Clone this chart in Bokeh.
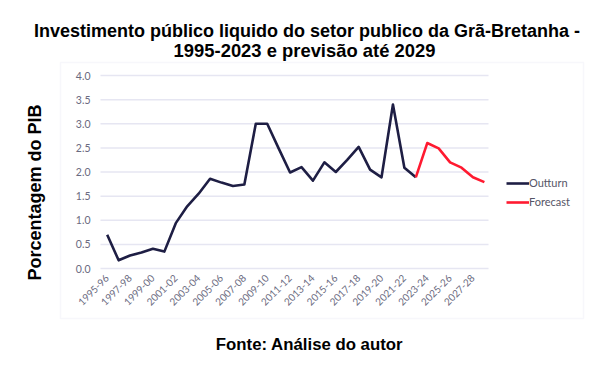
import math
from bokeh.plotting import figure
from bokeh.models import (ColumnDataSource, Range1d, FixedTicker, Label,
                          BoxAnnotation, Legend, LegendItem)
from bokeh.embed import file_html
from bokeh.resources import INLINE

periods = ["1995-96", "1996-97", "1997-98", "1998-99", "1999-00", "2000-01",
           "2001-02", "2002-03", "2003-04", "2004-05", "2005-06", "2006-07",
           "2007-08", "2008-09", "2009-10", "2010-11", "2011-12", "2012-13",
           "2013-14", "2014-15", "2015-16", "2016-17", "2017-18", "2018-19",
           "2019-20", "2020-21", "2021-22", "2022-23", "2023-24", "2024-25",
           "2025-26", "2026-27", "2027-28", "2028-29"]
outturn = [0.70, 0.17, 0.27, 0.33, 0.41, 0.35, 0.94, 1.29, 1.55, 1.86,
           1.78, 1.71, 1.74, 3.00, 3.00, 2.49, 1.99, 2.10, 1.82, 2.20,
           2.00, 2.25, 2.52, 2.05, 1.89, 3.40, 2.09, 1.89]
forecast_periods = periods[27:]
forecast = [1.89, 2.60, 2.49, 2.20, 2.09, 1.89, 1.79]
y_ticks = [0.0, 0.5, 1.0, 1.5, 2.0, 2.5, 3.0, 3.5, 4.0]

title1 = "Investimento público liquido do setor publico da Grã-Bretanha -"
title2 = "1995-2023 e previsão até 2029"
ylab = "Porcentagem do PIB"
footer = "Fonte: Análise do autor"

idx = {p: i for i, p in enumerate(periods)}
src_out = ColumnDataSource(dict(x=[idx[p] for p in periods[:len(outturn)]], y=outturn))
src_fc = ColumnDataSource(dict(x=[idx[p] for p in forecast_periods], y=forecast))

# layout (figure pixels); the frame covers the whole canvas
W, H = 595, 356
X0PX, DX = 106.7, 11.43  # px of first period, px per period
Y0PX, DY = 268.0, 48.25  # px of value 0, px per unit

def dx(px):
    return (px - X0PX) / DX

def dy(py):
    return (Y0PX - py) / DY

p = figure(width=W, height=H, output_backend="svg", toolbar_location=None,
           x_range=Range1d(dx(0), dx(W)), y_range=Range1d(dy(H), dy(0)),
           min_border=0)
p.outline_line_color = None
p.background_fill_color = "white"
p.border_fill_color = "white"
p.xgrid.grid_line_color = None
p.ygrid.grid_line_color = None

grid_col = "#e6e6f2"
# light box around the chart
p.add_layout(BoxAnnotation(left=dx(60), right=dx(583), top=dy(62), bottom=dy(318),
                           fill_alpha=0, line_color=grid_col, line_width=1.5,
                           level="underlay"))

# horizontal gridlines at the y ticks
gx0, gx1 = dx(100), dx(488)
p.segment(x0=[gx0] * len(y_ticks), x1=[gx1] * len(y_ticks), y0=y_ticks, y1=y_ticks,
          line_color=grid_col, line_width=1.5)

r1 = p.line("x", "y", source=src_out, line_color="#1e1e44", line_width=2.6,
            line_join="round")
r2 = p.line("x", "y", source=src_fc, line_color="#ff1a30", line_width=2.6,
            line_join="round")

for ax in (p.xaxis[0], p.yaxis[0]):
    ax.axis_line_color = None
    ax.major_tick_line_color = None
    ax.minor_tick_line_color = None
    ax.major_tick_out = 0
    ax.minor_tick_out = 0
    ax.major_label_text_font = "Lato"
    ax.major_label_text_color = "#6a6a80"
    ax.major_label_text_font_size = "10.5px"

p.yaxis.fixed_location = gx0
p.yaxis.ticker = FixedTicker(ticks=y_ticks)
p.yaxis.major_label_overrides = {t: f"{t:.1f}" for t in y_ticks}
p.yaxis.major_label_standoff = 10

even = [i for i in range(len(periods)) if i % 2 == 0]
p.xaxis.fixed_location = 0.0
p.xaxis.ticker = FixedTicker(ticks=even)
p.xaxis.major_label_overrides = {i: periods[i] for i in even}
p.xaxis.major_label_orientation = math.pi / 4
p.xaxis.major_label_standoff = 8
p.xaxis.major_label_text_font_size = "10px"

legend = Legend(items=[LegendItem(label="Outturn", renderers=[r1]),
                       LegendItem(label="Forecast", renderers=[r2])],
                location=(506, 148), orientation="vertical",
                label_text_font="Lato", label_text_color="#555566",
                label_text_font_size="11px", glyph_width=23, glyph_height=10,
                label_standoff=0, spacing=6, padding=0, margin=0,
                border_line_color=None, background_fill_alpha=0)
p.add_layout(legend)

def lab(text, fx, fy, size, angle=0.0):
    p.add_layout(Label(x=dx(fx), y=dy(fy), text=text,
                       text_font="Liberation Sans", text_font_style="bold",
                       text_font_size=size, text_color="black", angle=angle,
                       text_align="center", text_baseline="middle"))

lab(title1, 306.5, 30, "18px")
lab(title2, 304, 50, "18.4px")
lab(footer, 309, 344, "16.8px")
lab(ylab, 34, 192, "18px", angle=math.pi / 2)

open("out.html", "w").write(file_html(p, INLINE))
